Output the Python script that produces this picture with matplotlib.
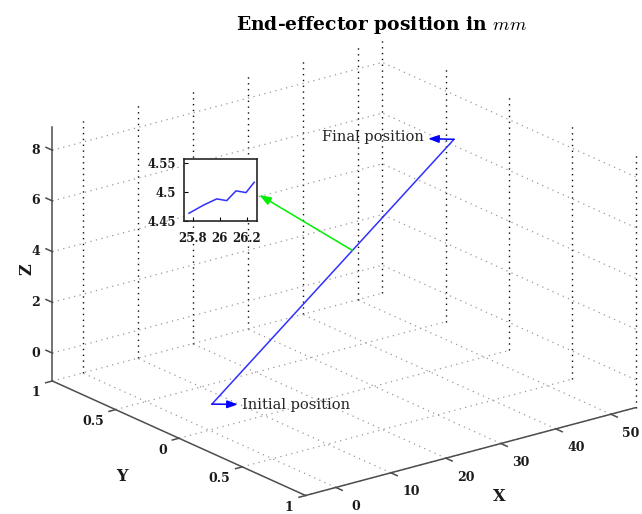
# Trajectory of the end-effector in 3D, with a zoomed detail of the path near x = 26 mm

import numpy as np
import matplotlib.pyplot as plt
from mpl_toolkits.mplot3d import proj3d

plt.rcParams['mathtext.fontset'] = 'cm'

# end-effector path (mm)
traj_x = [0.5, 44.5]
traj_y = [0.0, 0.0]
traj_z = [-0.1, 7.8]

# detail of the path around x = 26 (shown in the inset)
zoom_x = [25.773, 25.879, 25.978, 26.052, 26.121, 26.195, 26.256]
zoom_z = [4.463, 4.477, 4.488, 4.485, 4.502, 4.499, 4.517]
detail_anchor = (26.0, 0.0, 4.49)

# ticks and limits
x_ticks = [0, 10, 20, 30, 40, 50]
y_ticks = [-1, -0.5, 0, 0.5, 1]
y_tick_labels = ['1', '0.5', '0', '0.5', '1']
z_ticks = [0, 2, 4, 6, 8]
x_lim = (-5.5, 54.5)
y_lim = (-1, 1)
z_lim = (-1.1, 8.9)

zoom_x_ticks = [25.8, 26, 26.2]
zoom_z_ticks = [4.45, 4.5, 4.55]
zoom_x_lim = (25.736, 26.274)
zoom_z_lim = (4.452, 4.557)

fig = plt.figure(figsize=(6.42, 5.14), dpi=100)
ax = fig.add_axes([-0.0241, -0.2198, 1.0903, 1.3619], projection='3d', proj_type='ortho')
ax.view_init(elev=20.3, azim=-127.5)
ax.set_box_aspect((4, 4, 2.6), zoom=0.898)
ax.set_xlim(*x_lim)
ax.set_ylim(*y_lim)
ax.set_zlim(*z_lim)
ax.set_axis_off()

x0, x1 = x_lim
y0, y1 = y_lim
z0, z1 = z_lim

# grid, drawn like the MATLAB dotted grid
vgrid = dict(color='0.05', ls=(0, (1, 3.2)), lw=1.0)
hgrid = dict(color='0.6', ls=(0, (1, 3.5)), lw=0.9)
for xv in x_ticks:
    ax.plot([xv, xv], [y1, y1], [z0, z1], **vgrid)
    ax.plot([xv, xv], [y0, y1], [z0, z0], **hgrid)
for yv in y_ticks:
    ax.plot([x1, x1], [yv, yv], [z0, z1], **vgrid)
    ax.plot([x0, x1], [yv, yv], [z0, z0], **hgrid)
for zv in z_ticks:
    ax.plot([x0, x1], [y1, y1], [zv, zv], **hgrid)
    ax.plot([x1, x1], [y0, y1], [zv, zv], **hgrid)

# axis lines + ticks
axc = dict(color='0.3', lw=1.1)
ax.plot([x0, x0], [y1, y1], [z0, z1], **axc)
ax.plot([x0, x0], [y0, y1], [z0, z0], **axc)
ax.plot([x0, x1], [y0, y0], [z0, z0], **axc)
for zv in z_ticks:
    ax.plot([x0, x0], [y1, y1 + 0.05], [zv, zv], **axc)
for yv in y_ticks:
    ax.plot([x0, x0 - 1.2], [yv, yv], [z0, z0], **axc)
for xv in x_ticks:
    ax.plot([xv, xv], [y0, y0 - 0.05], [z0, z0], **axc)

M = ax.get_proj()


def to2d(x, y, z):
    px, py, _ = proj3d.proj_transform(x, y, z, M)
    return (px, py)


tick_font = dict(family='DejaVu Serif', fontweight='bold', fontsize=9, color='0.1')
for zv in z_ticks:
    ax.annotate(f'{zv}', to2d(x0, y1, zv), xytext=(-16.5, 0), textcoords='offset pixels',
                ha='center', va='center', **tick_font)
for yv, lab in zip(y_ticks, y_tick_labels):
    ax.annotate(lab, to2d(x0, yv, z0), xytext=(-12, -12), textcoords='offset pixels',
                ha='right', va='center', **tick_font)
for xv in x_ticks:
    ax.annotate(f'{xv}', to2d(xv, y0, z0), xytext=(20, -19), textcoords='offset pixels',
                ha='center', va='center', **tick_font)

label_font = dict(family='DejaVu Serif', fontweight='bold', fontsize=11.5, color='0.1')
ax.annotate('Z', to2d(x0, y1, 3.3), xytext=(-25.5, 0), textcoords='offset pixels',
            ha='center', va='center', rotation=90, **label_font)
ax.annotate('Y', to2d(x0, 0, z0), xytext=(-57, -38), textcoords='offset pixels',
            ha='center', va='center', **label_font)
ax.annotate('X', to2d(24.5, y0, z0), xytext=(29, -45), textcoords='offset pixels',
            ha='center', va='center', **label_font)

# the trajectory
ax.plot(traj_x, traj_y, traj_z, color='#3030ff', lw=1.1)

arrow_blue = dict(arrowstyle='<|-,head_length=0.6,head_width=0.22', color='blue',
                  lw=1.1, shrinkA=1, shrinkB=0)
ax.annotate('Initial position', to2d(traj_x[0], traj_y[0], traj_z[0]), xytext=(30, -1),
            textcoords='offset pixels', ha='left', va='center', family='DejaVu Serif',
            fontsize=10.5, color='0.15', arrowprops=arrow_blue)
ax.annotate('Final position', to2d(traj_x[-1], traj_y[-1], traj_z[-1]), xytext=(-30, 2),
            textcoords='offset pixels', ha='right', va='center', family='DejaVu Serif',
            fontsize=10.5, color='0.15', arrowprops=arrow_blue)

fig.text(0.594, 0.951, r'End-effector position in $mm$', ha='center', va='center',
         family='DejaVu Serif', fontweight='bold', fontsize=13.5)

# inset with the zoomed detail
axins = fig.add_axes([0.2866, 0.5706, 0.1132, 0.1195])
axins.plot(zoom_x, zoom_z, color='#3030ff', lw=1.1)
axins.set_xlim(*zoom_x_lim)
axins.set_ylim(*zoom_z_lim)
axins.set_xticks(zoom_x_ticks)
axins.set_xticklabels(['25.8', '26', '26.2'])
axins.set_yticks(zoom_z_ticks)
axins.set_yticklabels(['4.45', '4.5', '4.55'])
axins.tick_params(direction='in', length=3, width=0.8, pad=6, labelsize=8.5)
axins.tick_params(axis='x', pad=8)
for lab in axins.get_xticklabels() + axins.get_yticklabels():
    lab.set_family('DejaVu Serif')
    lab.set_fontweight('bold')
    lab.set_color('0.1')
for s in axins.spines.values():
    s.set_linewidth(1.2)
    s.set_color('0.15')

ax.annotate('', xy=(1.036, 0.42), xycoords=axins.transAxes,
            xytext=to2d(*detail_anchor), textcoords='data',
            arrowprops=dict(arrowstyle='-|>,head_length=0.7,head_width=0.25',
                            color='#00ee00', lw=1.1, shrinkA=0, shrinkB=0))

fig.savefig('out.png', dpi=100)
